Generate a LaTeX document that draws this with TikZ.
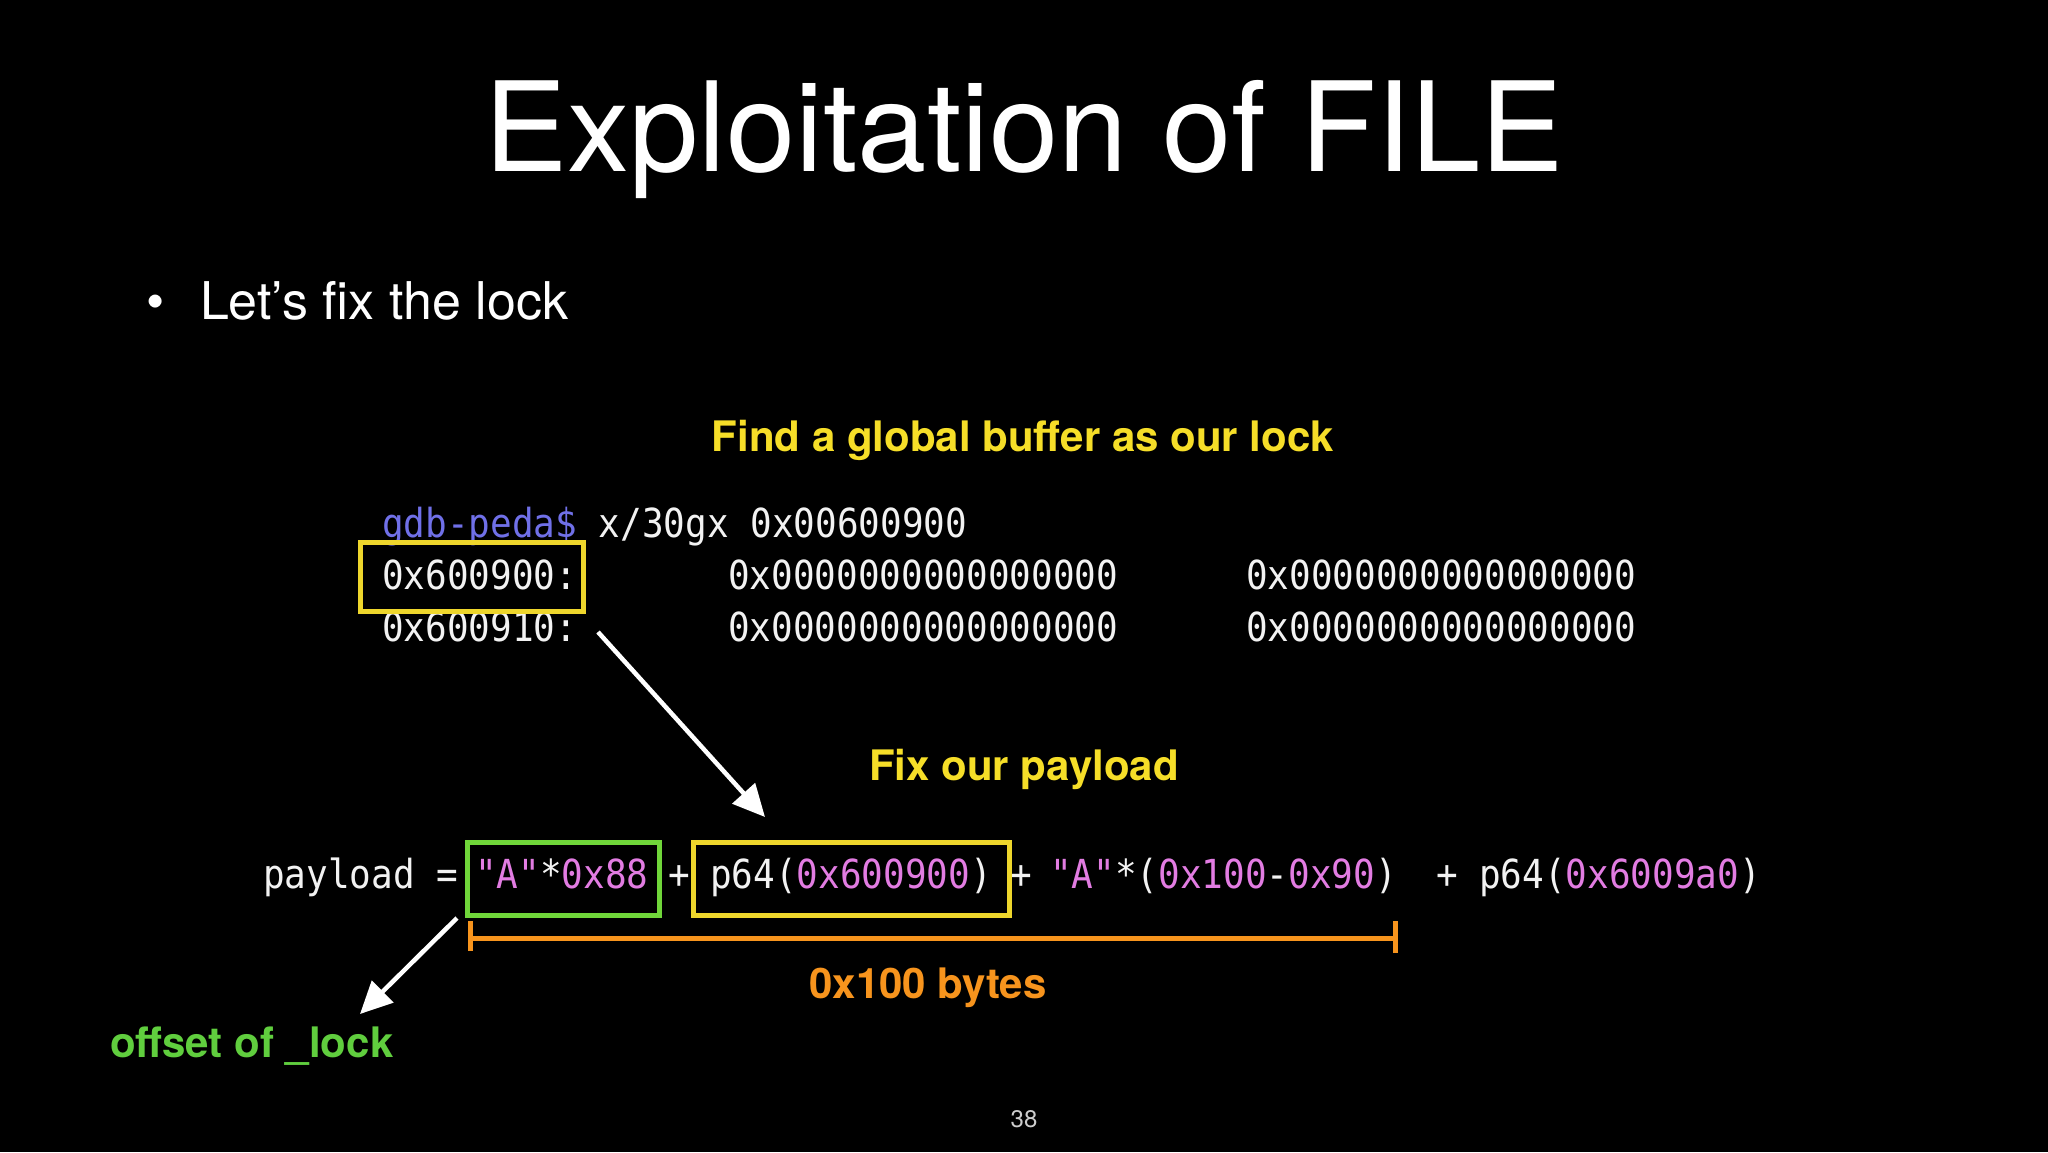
\documentclass[tikz,border=0pt]{standalone}
\usepackage{fontspec}
\setmainfont{TeX Gyre Heros}
\newfontfamily\mono[FakeStretch=0.90]{DejaVu Sans Mono}
\usetikzlibrary{arrows.meta}
\definecolor{hlyellow}{RGB}{246,222,40}
\definecolor{boxyellow}{RGB}{238,214,44}
\definecolor{hlorange}{RGB}{247,148,29}
\definecolor{hlgreen}{RGB}{96,206,62}
\definecolor{boxgreen}{RGB}{112,214,58}
\definecolor{gdbblue}{RGB}{112,112,232}
\definecolor{numpink}{RGB}{226,124,226}
\definecolor{termwhite}{RGB}{242,242,242}
\definecolor{pagegray}{RGB}{205,205,205}
\begin{document}
\begin{tikzpicture}[x=1pt,y=-1pt,
  txt/.style={inner sep=0pt,outer sep=0pt,anchor=base west,text=white},
  ctxt/.style={inner sep=0pt,outer sep=0pt,anchor=base,text=white},
  term/.style={txt,text=termwhite,font=\mono\fontsize{40}{44}\selectfont},
  head/.style={ctxt,font=\bfseries\fontsize{42}{46}\selectfont},
  chalkbox/.style={draw,line width=5pt,inner sep=0pt,fill=none},
  chalkarrow/.style={draw=white,line width=4.5pt,-{Triangle[length=32pt,width=30pt]}},
  brace/.style={draw=hlorange,line width=5pt}
]
\fill[black] (0,0) rectangle (2048,1152);
\useasboundingbox (0,0) rectangle (2048,1152);

% title and bullet
\node[ctxt,font=\fontsize{124.5}{130}\selectfont] (title) at (1024,171) {Exploitation of FILE};
\node[txt,font=\fontsize{52}{56}\selectfont] (bul) at (146,319) {\textbullet};
\node[txt,font=\fontsize{52}{56}\selectfont] (point) at (200,319) {Let’s fix the lock};

% headings
\node[head,text=hlyellow] (find) at (1023,451) {Find a global buffer as our lock};
\node[head,text=hlyellow] (fix) at (1024,780) {Fix our payload};
\node[head,text=hlorange] (bytes) at (928,998) {0x100 bytes};
\node[txt,font=\bfseries\fontsize{42}{46}\selectfont,text=hlgreen] (offs) at (110,1057) {offset of \_lock};
\node[ctxt,text=pagegray,font=\fontsize{24}{26}\selectfont] (page) at (1024,1127) {38};

% terminal
\node[term] (l1) at (382,537) {\textcolor{gdbblue}{gdb-peda\$} x/30gx 0x00600900};
\node[term] (l2a) at (382,589) {0x600900:};
\node[term] (l2b) at (728,589) {0x0000000000000000};
\node[term] (l2c) at (1246,589) {0x0000000000000000};
\node[term] (l3a) at (382,641) {0x600910:};
\node[term] (l3b) at (728,641) {0x0000000000000000};
\node[term] (l3c) at (1246,641) {0x0000000000000000};
\node[chalkbox,draw=boxyellow,minimum width=223pt,minimum height=69pt] (tbox) at (471.5,576.5) {};

% payload line
\node[term] (pl) at (263,888) {payload =};
\node[term] (pa) at (475,888) {\textcolor{numpink}{"A"}*\textcolor{numpink}{0x88}};
\node[term] (plus1) at (668,888) {+};
\node[term] (pb) at (710,888) {p64(\textcolor{numpink}{0x600900})};
\node[term] (plus2) at (1010,888) {+};
\node[term] (pc) at (1050,888) {\textcolor{numpink}{"A"}*(\textcolor{numpink}{0x100}-\textcolor{numpink}{0x90})};
\node[term] (plus3) at (1436,888) {+};
\node[term] (pd) at (1479,888) {p64(\textcolor{numpink}{0x6009a0})};

\node[chalkbox,draw=boxgreen,minimum width=192pt,minimum height=73pt] (gbox) at (563,878.5) {};
\node[chalkbox,draw=boxyellow,minimum width=316pt,minimum height=73pt] (ybox) at (851,878.5) {};

% 0x100 bracket
\coordinate (brl) at (470,938);
\coordinate (brr) at (1395,938);
\draw[brace] (brl) -- (brr);
\draw[brace] ([yshift=-13pt]brl) -- ([yshift=17pt]brl);
\draw[brace] ([yshift=-15pt]brr) -- ([yshift=17pt]brr);

% arrows
\coordinate (a1s) at (598,632);
\coordinate (a1e) at (765,817);
\coordinate (a2s) at (457,918);
\coordinate (a2e) at (360,1014);
\draw[chalkarrow] (a1s) -- (a1e);
\draw[chalkarrow] (a2s) -- (a2e);
\end{tikzpicture}
\end{document}
